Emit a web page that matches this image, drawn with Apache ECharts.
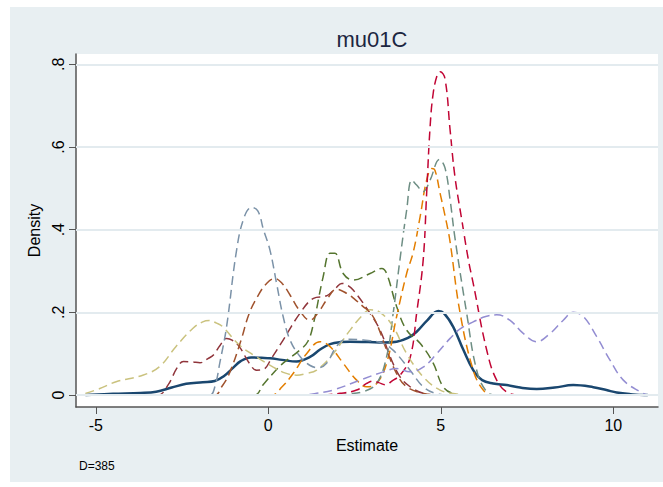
<!DOCTYPE html>
<html>
<head>
<meta charset="utf-8">
<script src="https://cdn.jsdelivr.net/npm/echarts@6.0.0/dist/echarts.min.js"></script>
<style>
  html, body { margin: 0; padding: 0; background: #ffffff; }
  #chart { width: 663px; height: 487px; }
</style>
</head>
<body>
<div id="chart"></div>
<script>
// Kernel density estimates of the mu01C estimate, one curve per group.
const titleText = 'mu01C';
const xTitle = 'Estimate';
const yTitle = 'Density';
const noteText = 'D=385';

const xTicks = [-5, 0, 5, 10];
const xTickLabels = ['-5', '0', '5', '10'];
const yTicks = [0, 0.2, 0.4, 0.6, 0.8];
const yTickLabels = ['0', '.2', '.4', '.6', '.8'];

// Pooled density (solid line)
const densAll = [[-5.3,0],[-4.5,0.003],[-3.7,0.005],[-3.25,0.008],[-2.8,0.018],[-2.38,0.027],[-1.9,0.031],[-1.55,0.034],[-1.3,0.045],[-1.03,0.065],[-0.8,0.082],[-0.5,0.091],[-0.2,0.09],[0.05,0.089],[0.4,0.085],[0.82,0.081],[1.21,0.092],[1.5,0.11],[1.79,0.123],[2.1,0.128],[2.37,0.129],[2.9,0.128],[3.33,0.127],[3.72,0.129],[4.05,0.138],[4.3,0.153],[4.6,0.18],[4.93,0.203],[5.1,0.197],[5.36,0.165],[5.65,0.11],[5.94,0.06],[6.2,0.036],[6.52,0.028],[6.91,0.024],[7.3,0.018],[7.78,0.0145],[8.3,0.018],[8.84,0.024],[9.42,0.019],[9.8,0.012],[10.1,0.006],[10.5,0.002],[10.9,0],[11,0]];

// Group densities (dashed lines)
const densMaroon = [[-5.3,0],[-3.2,0],[-2.9,0.025],[-2.65,0.065],[-2.46,0.081],[-2.2,0.08],[-1.98,0.078],[-1.75,0.088],[-1.59,0.097],[-1.4,0.12],[-1.21,0.137],[-1.05,0.133],[-0.84,0.117],[-0.55,0.077],[-0.34,0.06],[-0.14,0.062],[0.1,0.09],[0.43,0.133],[0.92,0.198],[1.31,0.234],[1.69,0.24],[1.95,0.258],[2.13,0.27],[2.3,0.265],[2.46,0.254],[2.85,0.21],[3.24,0.157],[3.53,0.093],[3.82,0.044],[4.11,0.02],[4.5,0.004],[5,0],[11,0]];
const densGreen = [[-5.3,0],[-0.4,0],[-0.15,0.025],[0.22,0.06],[0.43,0.077],[0.92,0.109],[1.15,0.13],[1.31,0.173],[1.59,0.286],[1.79,0.343],[1.93,0.343],[2.17,0.294],[2.46,0.278],[2.95,0.294],[3.29,0.306],[3.43,0.294],[3.72,0.214],[4.01,0.157],[4.4,0.125],[4.78,0.077],[5.07,0.02],[5.4,0.002],[5.6,0],[11,0]];
const densOrange = [[-5.3,0],[0.1,0],[0.4,0.02],[0.72,0.052],[1.11,0.1],[1.5,0.129],[1.79,0.117],[2.17,0.077],[2.56,0.036],[2.85,0.02],[3.14,0.028],[3.43,0.077],[3.72,0.19],[4.01,0.294],[4.2,0.345],[4.4,0.431],[4.59,0.52],[4.74,0.548],[4.83,0.544],[4.98,0.488],[5.17,0.415],[5.27,0.37],[5.56,0.198],[5.94,0.06],[6.23,0.012],[6.5,0],[11,0]];
const densTeal = [[-5.3,0],[1.8,0],[2.3,0.003],[2.75,0.008],[3.14,0.028],[3.43,0.093],[3.62,0.198],[3.82,0.33],[4.01,0.447],[4.16,0.52],[4.3,0.508],[4.49,0.492],[4.69,0.52],[4.96,0.57],[5.12,0.55],[5.27,0.472],[5.41,0.38],[5.75,0.198],[6.04,0.06],[6.33,0.008],[6.6,0],[11,0]];
const densCranberry = [[-5.3,0],[1.5,0],[2.08,0.004],[2.56,0.012],[2.85,0.028],[3.04,0.034],[3.2,0.03],[3.4,0.025],[3.6,0.035],[3.82,0.048],[4.11,0.09],[4.3,0.198],[4.49,0.327],[4.59,0.488],[4.69,0.649],[4.78,0.73],[4.9,0.775],[4.98,0.782],[5.12,0.766],[5.27,0.641],[5.41,0.528],[5.61,0.423],[5.8,0.327],[5.94,0.27],[6.33,0.109],[6.62,0.036],[6.96,0.005],[7.3,0],[11,0]];
const densKhaki = [[-5.3,0.004],[-4.9,0.015],[-4.41,0.032],[-3.64,0.048],[-3.16,0.068],[-2.68,0.117],[-2.19,0.161],[-1.9,0.177],[-1.71,0.18],[-1.5,0.174],[-1.32,0.165],[-0.84,0.121],[-0.36,0.093],[0.13,0.068],[0.5,0.053],[0.82,0.048],[1.1,0.052],[1.4,0.06],[1.88,0.1],[2.37,0.157],[2.75,0.195],[2.95,0.206],[3.24,0.2],[3.62,0.165],[4.01,0.1],[4.49,0.044],[4.98,0.012],[5.5,0.002],[6,0],[11,0]];
const densSienna = [[-5.3,0],[-1.55,0],[-1.35,0.02],[-1.13,0.052],[-0.8,0.13],[-0.55,0.198],[-0.3,0.24],[-0.05,0.27],[0.19,0.282],[0.4,0.27],[0.63,0.242],[0.9,0.205],[1.21,0.181],[1.45,0.2],[1.69,0.23],[1.98,0.256],[2.27,0.246],[2.5,0.232],[2.75,0.214],[2.95,0.2],[3.14,0.173],[3.43,0.109],[3.72,0.052],[4.01,0.02],[4.5,0.004],[5,0],[11,0]];
const densSteel = [[-5.3,0],[-1.7,0],[-1.55,0.02],[-1.4,0.08],[-1.21,0.165],[-0.92,0.35],[-0.7,0.43],[-0.48,0.454],[-0.3,0.445],[-0.14,0.40],[0.05,0.35],[0.24,0.27],[0.43,0.19],[0.63,0.133],[0.92,0.093],[1.2,0.072],[1.45,0.066],[1.69,0.077],[1.98,0.118],[2.27,0.135],[2.75,0.133],[3.33,0.125],[3.6,0.11],[3.72,0.1],[4.11,0.06],[4.49,0.02],[4.88,0.003],[5.2,0],[11,0]];
const densLavender = [[-5.3,0],[0.9,0],[1.4,0.004],[1.88,0.012],[2.66,0.036],[3.33,0.056],[3.72,0.064],[4.11,0.056],[4.5,0.068],[4.88,0.1],[5.27,0.137],[5.56,0.16],[5.94,0.177],[6.3,0.19],[6.62,0.194],[7.0,0.181],[7.39,0.149],[7.78,0.129],[8.17,0.149],[8.55,0.181],[8.84,0.2],[9.13,0.19],[9.52,0.141],[9.9,0.085],[10.29,0.036],[10.77,0.008],[11.0,0]];

const dashedCurves = [
  { name: 'g2', color: '#90353b', data: densMaroon },
  { name: 'g3', color: '#55752f', data: densGreen },
  { name: 'g4', color: '#e37e00', data: densOrange },
  { name: 'g5', color: '#6e8e84', data: densTeal },
  { name: 'g6', color: '#c10534', data: densCranberry },
  { name: 'g8', color: '#cac27e', data: densKhaki },
  { name: 'g9', color: '#a0522d', data: densSienna },
  { name: 'g10', color: '#7b92a8', data: densSteel },
  { name: 'g7', color: '#938dd2', data: densLavender }
];

const fontFamily = '"Liberation Sans", Arial, sans-serif';

const series = [
  {
    name: 'grid',
    type: 'line',
    data: [],
    z: 1,
    silent: true,
    markLine: {
      silent: true,
      symbol: 'none',
      label: { show: false },
      lineStyle: { color: '#e3ebef', width: 2, type: 'solid' },
      data: yTicks.map(v => ({ yAxis: v }))
    }
  },
  {
    name: 'all',
    type: 'line',
    data: densAll,
    smooth: 0.4,
    showSymbol: false,
    lineStyle: { color: '#1a476f', width: 2.5 },
    z: 3
  }
].concat(dashedCurves.map(c => ({
  name: c.name,
  type: 'line',
  data: c.data,
  smooth: 0.4,
  showSymbol: false,
  lineStyle: { color: c.color, width: 1.5, type: [9, 5] },
  z: 4
})));

const chart = echarts.init(document.getElementById('chart'), null, { renderer: 'svg' });
chart.setOption({
  animation: false,
  backgroundColor: '#ffffff',
  title: {
    text: titleText,
    left: 367,
    top: 23,
    textAlign: 'center',
    textStyle: { fontFamily, fontSize: 22, fontWeight: 'normal', color: '#1c2641' }
  },
  graphic: [
    {
      type: 'rect',
      z: -10,
      silent: true,
      shape: { x: 10, y: 7, width: 653, height: 475 },
      style: { fill: '#e8eff2' }
    },
    {
      type: 'text',
      left: 79,
      top: 460,
      style: { text: noteText, fontFamily, fontSize: 12, fill: '#000000' }
    }
  ],
  grid: {
    left: 76, right: 5, top: 54, bottom: 80,
    show: true, backgroundColor: '#ffffff', borderWidth: 0
  },
  xAxis: {
    type: 'value',
    min: -5.574,
    max: 11.296,
    name: xTitle,
    nameLocation: 'middle',
    nameGap: 27,
    nameTextStyle: { fontFamily, fontSize: 16, color: '#000000' },
    axisLine: { show: true, onZero: false, lineStyle: { color: '#555555', width: 1.5 } },
    axisTick: { show: true, length: 7, customValues: xTicks, lineStyle: { color: '#555555', width: 1 } },
    axisLabel: {
      customValues: xTicks,
      margin: 10,
      fontFamily, fontSize: 16, color: '#000000',
      formatter: v => xTickLabels[xTicks.indexOf(v)] ?? ''
    },
    splitLine: { show: false }
  },
  yAxis: {
    type: 'value',
    min: -0.029,
    max: 0.825,
    name: yTitle,
    nameLocation: 'middle',
    nameGap: 31,
    nameTextStyle: { fontFamily, fontSize: 16, color: '#000000' },
    axisLine: { show: true, onZero: false, lineStyle: { color: '#555555', width: 1.5 } },
    axisTick: { show: true, length: 7, customValues: yTicks, lineStyle: { color: '#555555', width: 1 } },
    axisLabel: {
      customValues: yTicks,
      rotate: 90,
      margin: 10,
      fontFamily, fontSize: 16, color: '#000000',
      formatter: v => yTickLabels[yTicks.indexOf(v)] ?? ''
    },
    splitLine: { show: false }
  },
  series
});
</script>
</body>
</html>
